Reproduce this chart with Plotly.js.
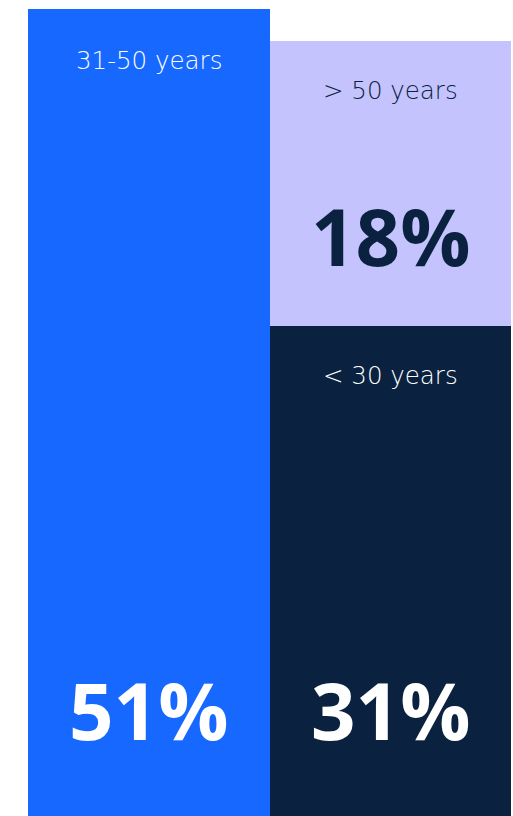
<!DOCTYPE html>
<html><head><meta charset="utf-8">
<script src="https://cdn.plot.ly/plotly-3.0.1.min.js"></script>
<style>html,body{margin:0;padding:0;background:#fff;overflow:hidden}#chart{width:513px;height:816px}</style>
</head><body><div id="chart"></div>
<script>
// Data
const columns = ['left', 'right'];
const ageGroups = ['31-50 years', '< 30 years', '> 50 years'];
const groupColumn = ['left', 'right', 'right'];
const shares = [51, 31, 18];
const valueLabels = ['51%', '31%', '18%'];

// Styles (not data)
const fills = ['#1668FF', '#0A2240', '#C5C3FD'];
const textColors = ['#FFFFFF', '#FFFFFF', '#0A2240'];
const labelShift = [-51, -50, -50];
const numberShift = [106, 106, 90];

const traces = [];
const annotations = [];
const stackTop = {};
ageGroups.forEach((g, i) => {
  const col = groupColumn[i];
  const base = stackTop[col] || 0;
  const top = base + shares[i];
  stackTop[col] = top;
  traces.push({
    type: 'bar', x: [col], y: [shares[i]], name: g,
    marker: {color: fills[i], line: {width: 0}},
    hoverinfo: 'skip'
  });
  annotations.push({
    x: col, y: top, xref: 'x', yref: 'y', text: g, showarrow: false,
    yanchor: 'middle', xanchor: 'center', yshift: labelShift[i],
    font: {family: 'DejaVu Sans', size: 24.5, color: textColors[i], weight: 300}
  });
  annotations.push({
    x: col, y: base, xref: 'x', yref: 'y', text: valueLabels[i], showarrow: false,
    yanchor: 'middle', xanchor: 'center', yshift: numberShift[i],
    font: {family: 'Open Sans', size: 78, color: textColors[i], weight: 700}
  });
});

const layout = {
  width: 513, height: 816,
  margin: {l: 28, r: 2, t: 0, b: 0, pad: 0},
  barmode: 'stack', bargap: 0,
  showlegend: false,
  paper_bgcolor: '#FFFFFF', plot_bgcolor: '#FFFFFF',
  xaxis: {visible: false, categoryorder: 'array', categoryarray: columns, fixedrange: true},
  yaxis: {visible: false, range: [0, 51.58], fixedrange: true},
  annotations: annotations
};
Plotly.newPlot('chart', traces, layout, {displayModeBar: false, staticPlot: true});
</script></body></html>
